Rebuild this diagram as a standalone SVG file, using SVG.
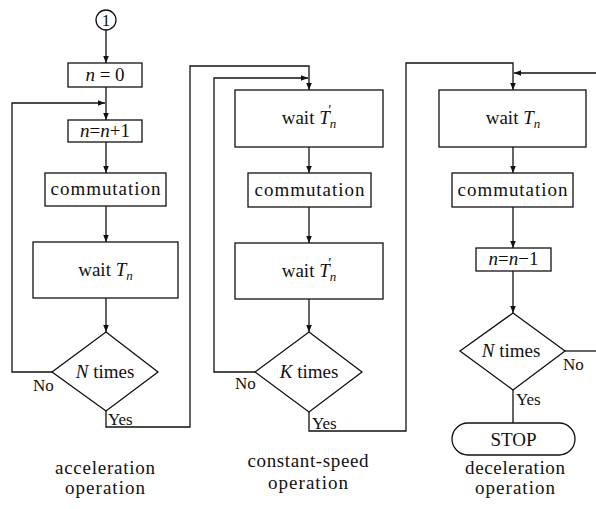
<svg xmlns="http://www.w3.org/2000/svg" width="596" height="509" viewBox="0 0 596 509" font-family="'Liberation Serif', 'DejaVu Serif', serif">
  <defs>
    <marker id="arr" viewBox="0 0 10 10" refX="10" refY="5" markerWidth="7" markerHeight="7" orient="auto" markerUnits="userSpaceOnUse">
      <path d="M0,1 L10,5 L0,9 Z" fill="#111"/>
    </marker>
  </defs>
  <style>
    .box { fill: #fff; stroke: #111; stroke-width: 1.3; }
    .ln { fill: none; stroke: #111; stroke-width: 1.3; }
    text { font-family: 'Liberation Serif', 'DejaVu Serif', serif; fill: #111; }
    .t { font-size: 19px; text-anchor: middle; }
    .s { font-size: 17px; }
    .cap { font-size: 19px; text-anchor: middle; }
    .i { font-style: italic; }
  </style>

  <!-- connectors -->
  <g id="connectors">
    <!-- acceleration column -->
    <line class="ln" x1="106" y1="30" x2="106" y2="63" marker-end="url(#arr)"/>
    <line class="ln" x1="106" y1="87" x2="106" y2="120" marker-end="url(#arr)"/>
    <polyline class="ln" points="52,372 12,372 12,103 105,103" marker-end="url(#arr)"/>
    <line class="ln" x1="106" y1="142" x2="106" y2="173" marker-end="url(#arr)"/>
    <line class="ln" x1="106" y1="206" x2="106" y2="242" marker-end="url(#arr)"/>
    <line class="ln" x1="106" y1="298" x2="106" y2="332" marker-end="url(#arr)"/>
    <polyline class="ln" points="106,411 106,427 190,427 190,66 309,66 309,90" marker-end="url(#arr)"/>

    <!-- constant-speed column -->
    <line class="ln" x1="309" y1="147" x2="309" y2="173" marker-end="url(#arr)"/>
    <line class="ln" x1="309" y1="207" x2="309" y2="243" marker-end="url(#arr)"/>
    <line class="ln" x1="309" y1="299" x2="309" y2="332" marker-end="url(#arr)"/>
    <polyline class="ln" points="255,372 214,372 214,78 308,78" marker-end="url(#arr)"/>
    <polyline class="ln" points="309,412 309,431 406,431 406,63 513,63 513,90" marker-end="url(#arr)"/>

    <!-- deceleration column -->
    <polyline class="ln" points="596,73 514,73" marker-end="url(#arr)"/>
    <line class="ln" x1="513" y1="147" x2="513" y2="173" marker-end="url(#arr)"/>
    <line class="ln" x1="513" y1="207" x2="513" y2="248" marker-end="url(#arr)"/>
    <line class="ln" x1="513" y1="271" x2="513" y2="313" marker-end="url(#arr)"/>
    <line class="ln" x1="565" y1="351" x2="596" y2="351"/>
    <line class="ln" x1="513" y1="390" x2="513" y2="423"/>
  </g>

  <!-- acceleration operation -->
  <g id="connector-1">
    <circle class="box" cx="106" cy="20" r="10"/>
    <text class="s" x="106" y="26" text-anchor="middle">1</text>
  </g>
  <g id="n-zero">
    <rect class="box" x="68" y="63" width="74" height="24"/>
    <text class="t" x="105" y="81"><tspan class="i">n</tspan> = 0</text>
  </g>
  <g id="n-inc">
    <rect class="box" x="68" y="120" width="74" height="22"/>
    <text class="t" x="105" y="137"><tspan class="i">n</tspan>=<tspan class="i">n</tspan>+1</text>
  </g>
  <g id="commutation-a">
    <rect class="box" x="45" y="173" width="121" height="33"/>
    <text class="t" x="105.5" y="195" textLength="110" lengthAdjust="spacing">commutation</text>
  </g>
  <g id="wait-a">
    <rect class="box" x="33" y="242" width="145" height="56"/>
    <text class="t" x="105.5" y="276">wait <tspan class="i">T</tspan><tspan class="i" font-size="13" dy="4">n</tspan></text>
  </g>
  <g id="decide-a">
    <polygon class="box" points="106,332 158,372 106,411 52,372"/>
    <text class="t" x="105" y="378"><tspan class="i">N</tspan> times</text>
    <text class="s" x="33" y="391">No</text>
    <text class="s" x="108" y="425">Yes</text>
  </g>

  <!-- constant-speed operation -->
  <g id="wait-b1">
    <rect class="box" x="235" y="90" width="148" height="57"/>
    <text class="t" x="309" y="124">wait <tspan class="i">T</tspan><tspan class="i" font-size="13" dy="4">n</tspan><tspan font-size="15" dx="-8" dy="-13">′</tspan></text>
  </g>
  <g id="commutation-b">
    <rect class="box" x="248" y="173" width="123" height="34"/>
    <text class="t" x="309.5" y="196" textLength="110" lengthAdjust="spacing">commutation</text>
  </g>
  <g id="wait-b2">
    <rect class="box" x="235" y="243" width="148" height="56"/>
    <text class="t" x="309" y="277">wait <tspan class="i">T</tspan><tspan class="i" font-size="13" dy="4">n</tspan><tspan font-size="15" dx="-8" dy="-13">′</tspan></text>
  </g>
  <g id="decide-b">
    <polygon class="box" points="309,332 362,372 309,412 255,372"/>
    <text class="t" x="309" y="378"><tspan class="i">K</tspan> times</text>
    <text class="s" x="235" y="389">No</text>
    <text class="s" x="312" y="429">Yes</text>
  </g>

  <!-- deceleration operation -->
  <g id="wait-c">
    <rect class="box" x="439" y="90" width="147" height="57"/>
    <text class="t" x="513" y="124">wait <tspan class="i">T</tspan><tspan class="i" font-size="13" dy="4">n</tspan></text>
  </g>
  <g id="commutation-c">
    <rect class="box" x="452" y="173" width="121" height="34"/>
    <text class="t" x="512.5" y="196" textLength="110" lengthAdjust="spacing">commutation</text>
  </g>
  <g id="n-dec">
    <rect class="box" x="476" y="248" width="75" height="23"/>
    <text class="t" x="513.5" y="265"><tspan class="i">n</tspan>=<tspan class="i">n</tspan>−1</text>
  </g>
  <g id="decide-c">
    <polygon class="box" points="513,313 565,351 513,390 460,351"/>
    <text class="t" x="511" y="357"><tspan class="i">N</tspan> times</text>
    <text class="s" x="563" y="370">No</text>
    <text class="s" x="516" y="405">Yes</text>
  </g>
  <g id="stop">
    <rect class="box" x="452" y="423" width="123" height="32" rx="16" ry="16"/>
    <text class="t" x="513.5" y="446">STOP</text>
  </g>

  <!-- phase captions -->
  <g id="captions">
    <text class="cap" x="105" y="474" textLength="100" lengthAdjust="spacing">acceleration</text>
    <text class="cap" x="105" y="494" textLength="80" lengthAdjust="spacing">operation</text>
    <text class="cap" x="308" y="467" textLength="121" lengthAdjust="spacing">constant-speed</text>
    <text class="cap" x="308" y="489" textLength="80" lengthAdjust="spacing">operation</text>
    <text class="cap" x="515" y="474" textLength="100" lengthAdjust="spacing">deceleration</text>
    <text class="cap" x="515" y="494" textLength="80" lengthAdjust="spacing">operation</text>
  </g>
</svg>
